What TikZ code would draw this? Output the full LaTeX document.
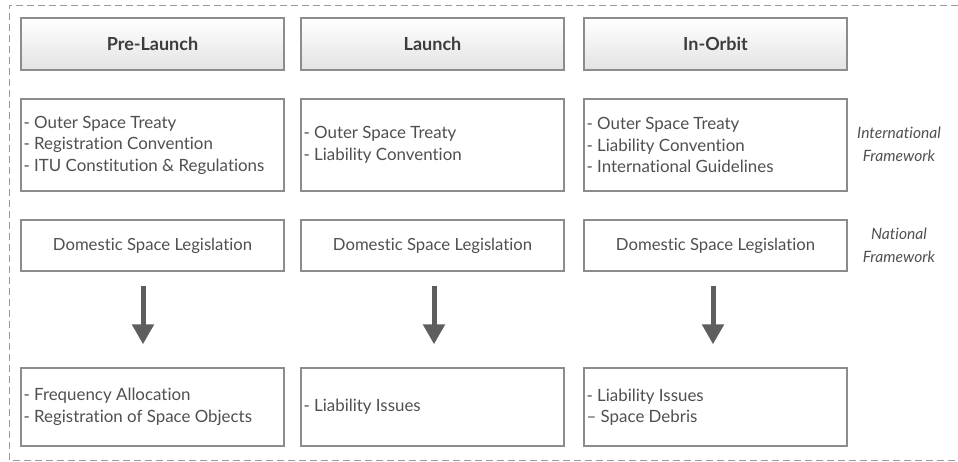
\documentclass[tikz,border=0pt]{standalone}
\usepackage{fontspec}
\setmainfont[Ligatures={NoCommon,NoRare,NoDiscretionary}]{Lato}
\usetikzlibrary{arrows.meta,shadows,calc}
\definecolor{inkgrey}{HTML}{505050}
\definecolor{edgegrey}{HTML}{8C8C8C}
\definecolor{arrowgrey}{HTML}{5E5E5E}
\definecolor{framegrey}{HTML}{9A9A9A}
\tikzset{
  box/.style={draw=edgegrey, line width=1.3pt, fill=white, minimum width=263pt, inner sep=0pt},
  head/.style={box, minimum height=52pt, top color=white, bottom color=black!11,
    drop shadow={shadow xshift=1pt, shadow yshift=-1.5pt, opacity=0.25},
    font=\fontsize{18}{20}\selectfont\bfseries, text=inkgrey!75!black},
  listbox/.style={box, text=inkgrey, font=\fontsize{16.7}{21.5}\selectfont},
  listtext/.style={anchor=west, inner sep=0pt, align=left, text=inkgrey, font=\fontsize{16.9}{21.5}\selectfont},
  sidetext/.style={align=center, text=inkgrey, font=\fontsize{15.6}{23}\selectfont\itshape},
  bigarrow/.style={draw=arrowgrey, line width=5pt, -{Triangle[width=21pt,length=20pt]}},
  frame/.style={draw=framegrey, line width=0.9pt, dash pattern=on 7pt off 4pt},
}
\begin{document}
\begin{tikzpicture}[x=1pt,y=-1pt]
\useasboundingbox (0,0) rectangle (958,462);
% outer dashed frame, open on the right
\draw[frame] (958,5) -- (9,5) -- (9,460) -- (958,460);

% headers
\node[head] (h1) at (152.5,44) {Pre-Launch};
\node[head] (h2) at (432.5,44) {Launch};
\node[head] (h3) at (715.5,44) {In-Orbit};

% international framework boxes
\node[box, minimum height=92pt] (i1) at (152.5,145) {};
\node[box, minimum height=92pt] (i2) at (432.5,145) {};
\node[box, minimum height=92pt] (i3) at (715.5,145) {};
\node[listtext] (ti1) at ([xshift=3pt]i1.west) {- Outer Space Treaty\\- Registration Convention\\- ITU Constitution \& Regulations};
\node[listtext] (ti2) at ([xshift=3pt]i2.west) {- Outer Space Treaty\\- Liability Convention};
\node[listtext] (ti3) at ([xshift=3pt]i3.west) {- Outer Space Treaty\\- Liability Convention\\- International Guidelines};

% national framework boxes
\node[listbox, minimum height=51pt] (d1) at (152.5,245.5) {Domestic Space Legislation};
\node[listbox, minimum height=51pt] (d2) at (432.5,245.5) {Domestic Space Legislation};
\node[listbox, minimum height=51pt] (d3) at (715.5,245.5) {Domestic Space Legislation};

% outcome boxes
\node[box, minimum height=78pt] (o1) at (152.5,407) {};
\node[box, minimum height=78pt] (o2) at (432.5,407) {};
\node[box, minimum height=78pt] (o3) at (715.5,407) {};
\node[listtext] (to1) at ([xshift=3pt]o1.west) {- Frequency Allocation\\- Registration of Space Objects};
\node[listtext] (to2) at ([xshift=3pt]o2.west) {- Liability Issues};
\node[listtext] (to3) at ([xshift=3pt]o3.west) {- Liability Issues\\-- Space Debris};

% arrows from national legislation to outcomes
\draw[bigarrow, shorten <=14pt, shorten >=23pt] ([xshift=-9.5pt]d1.south) -- ([xshift=-9.5pt]o1.north);
\draw[bigarrow, shorten <=14pt, shorten >=23pt] ([xshift=1.5pt]d2.south) -- ([xshift=1.5pt]o2.north);
\draw[bigarrow, shorten <=14pt, shorten >=23pt] ([xshift=-2.5pt]d3.south) -- ([xshift=-2.5pt]o3.north);

% side labels
\node[sidetext] (lint) at (899,144) {International\\Framework};
\node[sidetext] (lnat) at (899,245) {National\\Framework};
\end{tikzpicture}
\end{document}
